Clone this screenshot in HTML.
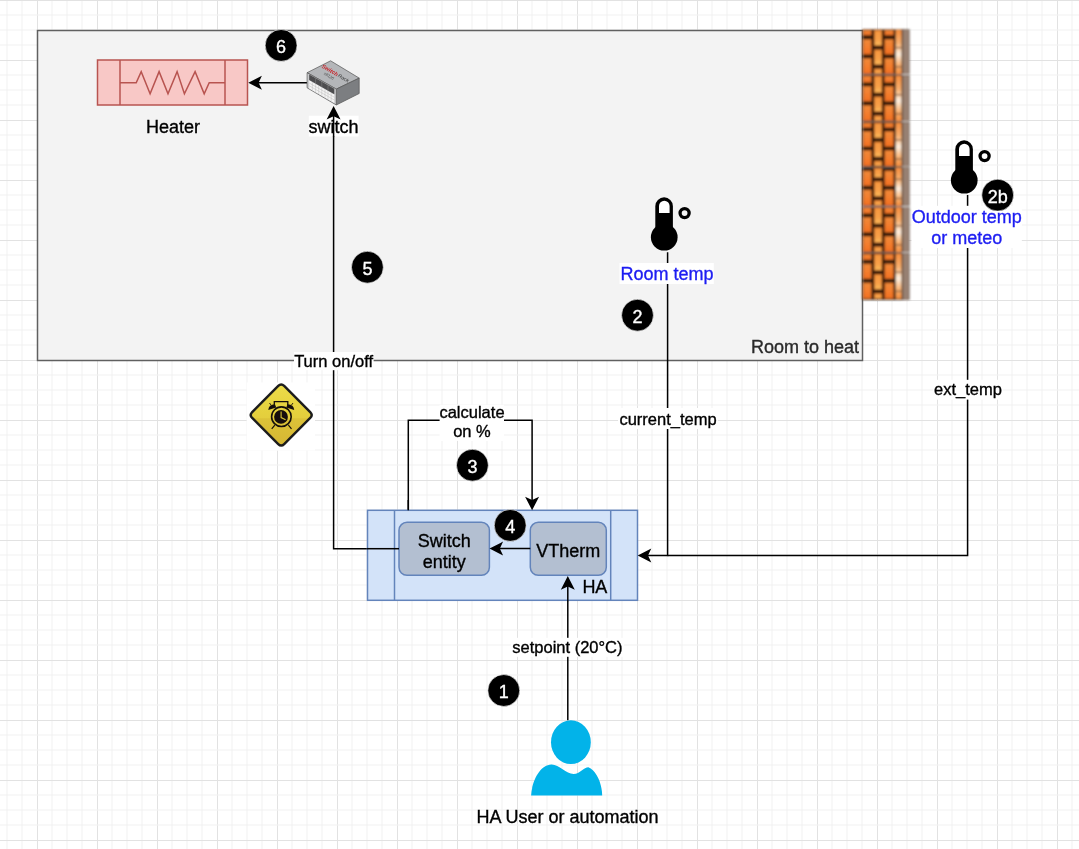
<!DOCTYPE html>
<html><head><meta charset="utf-8">
<style>
html,body{margin:0;padding:0;width:1079px;height:849px;overflow:hidden;background:#fff;}
svg{position:absolute;left:0;top:0;display:block;will-change:transform;}
text{font-family:"Liberation Sans",sans-serif;stroke-width:0.35px;}
</style></head>
<body>
<svg width="1079" height="849" viewBox="0 0 1079 849">
<defs></defs>
<rect x="6.5" y="0" width="1" height="849" fill="#f2f2f2"/>
<rect x="21.5" y="0" width="1" height="849" fill="#f2f2f2"/>
<rect x="37" y="0" width="1" height="849" fill="#e2e2e2"/>
<rect x="51.5" y="0" width="1" height="849" fill="#f2f2f2"/>
<rect x="66.5" y="0" width="1" height="849" fill="#f2f2f2"/>
<rect x="81.5" y="0" width="1" height="849" fill="#f2f2f2"/>
<rect x="97" y="0" width="1" height="849" fill="#e2e2e2"/>
<rect x="111.5" y="0" width="1" height="849" fill="#f2f2f2"/>
<rect x="126.5" y="0" width="1" height="849" fill="#f2f2f2"/>
<rect x="141.5" y="0" width="1" height="849" fill="#f2f2f2"/>
<rect x="157" y="0" width="1" height="849" fill="#e2e2e2"/>
<rect x="171.5" y="0" width="1" height="849" fill="#f2f2f2"/>
<rect x="186.5" y="0" width="1" height="849" fill="#f2f2f2"/>
<rect x="201.5" y="0" width="1" height="849" fill="#f2f2f2"/>
<rect x="217" y="0" width="1" height="849" fill="#e2e2e2"/>
<rect x="231.5" y="0" width="1" height="849" fill="#f2f2f2"/>
<rect x="246.5" y="0" width="1" height="849" fill="#f2f2f2"/>
<rect x="261.5" y="0" width="1" height="849" fill="#f2f2f2"/>
<rect x="277" y="0" width="1" height="849" fill="#e2e2e2"/>
<rect x="291.5" y="0" width="1" height="849" fill="#f2f2f2"/>
<rect x="306.5" y="0" width="1" height="849" fill="#f2f2f2"/>
<rect x="321.5" y="0" width="1" height="849" fill="#f2f2f2"/>
<rect x="337" y="0" width="1" height="849" fill="#e2e2e2"/>
<rect x="351.5" y="0" width="1" height="849" fill="#f2f2f2"/>
<rect x="366.5" y="0" width="1" height="849" fill="#f2f2f2"/>
<rect x="381.5" y="0" width="1" height="849" fill="#f2f2f2"/>
<rect x="397" y="0" width="1" height="849" fill="#e2e2e2"/>
<rect x="411.5" y="0" width="1" height="849" fill="#f2f2f2"/>
<rect x="426.5" y="0" width="1" height="849" fill="#f2f2f2"/>
<rect x="441.5" y="0" width="1" height="849" fill="#f2f2f2"/>
<rect x="457" y="0" width="1" height="849" fill="#e2e2e2"/>
<rect x="471.5" y="0" width="1" height="849" fill="#f2f2f2"/>
<rect x="486.5" y="0" width="1" height="849" fill="#f2f2f2"/>
<rect x="501.5" y="0" width="1" height="849" fill="#f2f2f2"/>
<rect x="517" y="0" width="1" height="849" fill="#e2e2e2"/>
<rect x="531.5" y="0" width="1" height="849" fill="#f2f2f2"/>
<rect x="546.5" y="0" width="1" height="849" fill="#f2f2f2"/>
<rect x="561.5" y="0" width="1" height="849" fill="#f2f2f2"/>
<rect x="577" y="0" width="1" height="849" fill="#e2e2e2"/>
<rect x="591.5" y="0" width="1" height="849" fill="#f2f2f2"/>
<rect x="606.5" y="0" width="1" height="849" fill="#f2f2f2"/>
<rect x="621.5" y="0" width="1" height="849" fill="#f2f2f2"/>
<rect x="637" y="0" width="1" height="849" fill="#e2e2e2"/>
<rect x="651.5" y="0" width="1" height="849" fill="#f2f2f2"/>
<rect x="666.5" y="0" width="1" height="849" fill="#f2f2f2"/>
<rect x="681.5" y="0" width="1" height="849" fill="#f2f2f2"/>
<rect x="697" y="0" width="1" height="849" fill="#e2e2e2"/>
<rect x="711.5" y="0" width="1" height="849" fill="#f2f2f2"/>
<rect x="726.5" y="0" width="1" height="849" fill="#f2f2f2"/>
<rect x="741.5" y="0" width="1" height="849" fill="#f2f2f2"/>
<rect x="757" y="0" width="1" height="849" fill="#e2e2e2"/>
<rect x="771.5" y="0" width="1" height="849" fill="#f2f2f2"/>
<rect x="786.5" y="0" width="1" height="849" fill="#f2f2f2"/>
<rect x="801.5" y="0" width="1" height="849" fill="#f2f2f2"/>
<rect x="817" y="0" width="1" height="849" fill="#e2e2e2"/>
<rect x="831.5" y="0" width="1" height="849" fill="#f2f2f2"/>
<rect x="846.5" y="0" width="1" height="849" fill="#f2f2f2"/>
<rect x="861.5" y="0" width="1" height="849" fill="#f2f2f2"/>
<rect x="877" y="0" width="1" height="849" fill="#e2e2e2"/>
<rect x="891.5" y="0" width="1" height="849" fill="#f2f2f2"/>
<rect x="906.5" y="0" width="1" height="849" fill="#f2f2f2"/>
<rect x="921.5" y="0" width="1" height="849" fill="#f2f2f2"/>
<rect x="937" y="0" width="1" height="849" fill="#e2e2e2"/>
<rect x="951.5" y="0" width="1" height="849" fill="#f2f2f2"/>
<rect x="966.5" y="0" width="1" height="849" fill="#f2f2f2"/>
<rect x="981.5" y="0" width="1" height="849" fill="#f2f2f2"/>
<rect x="997" y="0" width="1" height="849" fill="#e2e2e2"/>
<rect x="1011.5" y="0" width="1" height="849" fill="#f2f2f2"/>
<rect x="1026.5" y="0" width="1" height="849" fill="#f2f2f2"/>
<rect x="1041.5" y="0" width="1" height="849" fill="#f2f2f2"/>
<rect x="1057" y="0" width="1" height="849" fill="#e2e2e2"/>
<rect x="1071.5" y="0" width="1" height="849" fill="#f2f2f2"/>
<rect x="0" y="0" width="1079" height="1" fill="#e2e2e2"/>
<rect x="0" y="14.5" width="1079" height="1" fill="#f2f2f2"/>
<rect x="0" y="29.5" width="1079" height="1" fill="#f2f2f2"/>
<rect x="0" y="44.5" width="1079" height="1" fill="#f2f2f2"/>
<rect x="0" y="60" width="1079" height="1" fill="#e2e2e2"/>
<rect x="0" y="74.5" width="1079" height="1" fill="#f2f2f2"/>
<rect x="0" y="89.5" width="1079" height="1" fill="#f2f2f2"/>
<rect x="0" y="104.5" width="1079" height="1" fill="#f2f2f2"/>
<rect x="0" y="120" width="1079" height="1" fill="#e2e2e2"/>
<rect x="0" y="134.5" width="1079" height="1" fill="#f2f2f2"/>
<rect x="0" y="149.5" width="1079" height="1" fill="#f2f2f2"/>
<rect x="0" y="164.5" width="1079" height="1" fill="#f2f2f2"/>
<rect x="0" y="180" width="1079" height="1" fill="#e2e2e2"/>
<rect x="0" y="194.5" width="1079" height="1" fill="#f2f2f2"/>
<rect x="0" y="209.5" width="1079" height="1" fill="#f2f2f2"/>
<rect x="0" y="224.5" width="1079" height="1" fill="#f2f2f2"/>
<rect x="0" y="240" width="1079" height="1" fill="#e2e2e2"/>
<rect x="0" y="254.5" width="1079" height="1" fill="#f2f2f2"/>
<rect x="0" y="269.5" width="1079" height="1" fill="#f2f2f2"/>
<rect x="0" y="284.5" width="1079" height="1" fill="#f2f2f2"/>
<rect x="0" y="300" width="1079" height="1" fill="#e2e2e2"/>
<rect x="0" y="314.5" width="1079" height="1" fill="#f2f2f2"/>
<rect x="0" y="329.5" width="1079" height="1" fill="#f2f2f2"/>
<rect x="0" y="344.5" width="1079" height="1" fill="#f2f2f2"/>
<rect x="0" y="360" width="1079" height="1" fill="#e2e2e2"/>
<rect x="0" y="374.5" width="1079" height="1" fill="#f2f2f2"/>
<rect x="0" y="389.5" width="1079" height="1" fill="#f2f2f2"/>
<rect x="0" y="404.5" width="1079" height="1" fill="#f2f2f2"/>
<rect x="0" y="420" width="1079" height="1" fill="#e2e2e2"/>
<rect x="0" y="434.5" width="1079" height="1" fill="#f2f2f2"/>
<rect x="0" y="449.5" width="1079" height="1" fill="#f2f2f2"/>
<rect x="0" y="464.5" width="1079" height="1" fill="#f2f2f2"/>
<rect x="0" y="480" width="1079" height="1" fill="#e2e2e2"/>
<rect x="0" y="494.5" width="1079" height="1" fill="#f2f2f2"/>
<rect x="0" y="509.5" width="1079" height="1" fill="#f2f2f2"/>
<rect x="0" y="524.5" width="1079" height="1" fill="#f2f2f2"/>
<rect x="0" y="540" width="1079" height="1" fill="#e2e2e2"/>
<rect x="0" y="554.5" width="1079" height="1" fill="#f2f2f2"/>
<rect x="0" y="569.5" width="1079" height="1" fill="#f2f2f2"/>
<rect x="0" y="584.5" width="1079" height="1" fill="#f2f2f2"/>
<rect x="0" y="600" width="1079" height="1" fill="#e2e2e2"/>
<rect x="0" y="614.5" width="1079" height="1" fill="#f2f2f2"/>
<rect x="0" y="629.5" width="1079" height="1" fill="#f2f2f2"/>
<rect x="0" y="644.5" width="1079" height="1" fill="#f2f2f2"/>
<rect x="0" y="660" width="1079" height="1" fill="#e2e2e2"/>
<rect x="0" y="674.5" width="1079" height="1" fill="#f2f2f2"/>
<rect x="0" y="689.5" width="1079" height="1" fill="#f2f2f2"/>
<rect x="0" y="704.5" width="1079" height="1" fill="#f2f2f2"/>
<rect x="0" y="720" width="1079" height="1" fill="#e2e2e2"/>
<rect x="0" y="734.5" width="1079" height="1" fill="#f2f2f2"/>
<rect x="0" y="749.5" width="1079" height="1" fill="#f2f2f2"/>
<rect x="0" y="764.5" width="1079" height="1" fill="#f2f2f2"/>
<rect x="0" y="780" width="1079" height="1" fill="#e2e2e2"/>
<rect x="0" y="794.5" width="1079" height="1" fill="#f2f2f2"/>
<rect x="0" y="809.5" width="1079" height="1" fill="#f2f2f2"/>
<rect x="0" y="824.5" width="1079" height="1" fill="#f2f2f2"/>
<rect x="0" y="840" width="1079" height="1" fill="#e2e2e2"/>
<rect x="37.5" y="30.5" width="825" height="330" fill="#f3f3f3" stroke="#606060" stroke-width="1.5"/>
<text stroke="#2a2a2a" x="859" y="353" font-size="18" fill="#2a2a2a" text-anchor="end">Room to heat</text>
<g fill="none" stroke="#b85450" stroke-width="1.5">
  <rect x="97.5" y="60" width="150" height="45" fill="#f8c8c6"/>
  <line x1="120" y1="60" x2="120" y2="105"/>
  <line x1="225" y1="60" x2="225" y2="105"/>
  <polyline points="120,82.8 136.2,82.8 141.2,71.6 150.1,93.8 159.1,71.6 168,93.8 177.1,71.6 184.4,93.8 195.1,71.6 204.2,93.8 209.2,82.8 225,82.8"/>
</g>
<text stroke="#000" x="173" y="132.5" font-size="18" fill="#000" text-anchor="middle">Heater</text>
<g fill="none" stroke="#000" stroke-width="1.5">
  <path d="M307,82.8 L252,82.8"/>
  <path d="M399,548.7 L333.6,548.7 L333.6,110"/>
  <path d="M408.3,510 L408.3,420.3 L532.1,420.3 L532.1,500"/>
  <path d="M530.3,548.6 L495,548.6"/>
  <path d="M667.6,252.3 L667.6,555.5 L645,555.5"/>
  <path d="M967.6,195 L967.6,555.5 L667.6,555.5"/>
  <path d="M567.8,720.3 L567.8,585"/>
</g>
<g stroke="#555" stroke-width="0.7" stroke-linejoin="round">
  <path d="M330.6,60.8 L359.2,78.1 L336.3,89.1 L307.1,72.7 Z" fill="#b4b6b9"/>
  <path d="M336.3,89.1 L359.2,78.1 L359.2,93.5 L336.3,105 Z" fill="#7c7e81"/>
  <path d="M307.1,72.7 L336.3,89.1 L336.3,105 L307.1,87.8 Z" fill="#c9cacc"/>
</g>
<path d="M309.2,80.2 L334.3,94.4 L334.3,103 L309.2,88.6 Z" fill="#f4f4f4"/>
<path d="M309.2,74.6 L334.3,88.8 L334.3,94.2 L309.2,80 Z" fill="#4d4d4f"/>
<g stroke="#8a8a8a" stroke-width="0.5" fill="none">
  <path d="M315.6,78.2 L315.6,83.6 M321.8,81.7 L321.8,87.1 M328,85.2 L328,90.6"/>
</g>
<g stroke="#b8b8b8" stroke-width="0.45" fill="none">
  <path d="M309.2,83 L334.3,97.2 M309.2,85.8 L334.3,100 M312.4,82 L312.4,90.4 M315.6,83.8 L315.6,92.2 M318.7,85.6 L318.7,94 M321.8,87.3 L321.8,95.7 M325,89.1 L325,97.5 M328,90.9 L328,99.3 M331.2,92.7 L331.2,101.1"/>
</g>
<text x="0" y="0" font-size="5.6" font-style="italic" font-weight="bold" fill="#c8252b" textLength="18" lengthAdjust="spacingAndGlyphs" transform="translate(321.3,67.2) rotate(31)">Switch</text>
<text x="0" y="0" font-size="5" font-style="italic" fill="#3a3a3a" textLength="12" lengthAdjust="spacingAndGlyphs" transform="translate(337.5,76.6) rotate(31)">Rack</text>
<text x="0" y="0" font-size="4.2" font-style="italic" fill="#4a4a4a" textLength="11" lengthAdjust="spacingAndGlyphs" transform="translate(323.5,74.3) rotate(31)">x8126</text>
<rect x="308.8" y="115.7" width="49.8" height="20.8" fill="#fff"/>
<text stroke="#000" x="333.6" y="132.6" font-size="18" fill="#000" text-anchor="middle">switch</text>
<line x1="333.6" y1="116" x2="333.6" y2="137" stroke="#000" stroke-width="1.5"/>
<rect x="294" y="352" width="79.6" height="18.2" fill="#fff"/>
<text stroke="#000" x="333.6" y="366.6" font-size="16.5" fill="#000" text-anchor="middle">Turn on/off</text>
<g transform="translate(0,0)">
  <path d="M655.3,228 L655.3,206.1 A8.8,8.8 0 0 1 672.9,206.1 L672.9,228 Z" fill="#000"/>
  <path d="M659,213.1 L659,206 A5.3,5.3 0 0 1 669.6,206 L669.6,213.1 Z" fill="#fff"/>
  <circle cx="664.25" cy="237.25" r="13.35" fill="#000"/>
  <circle cx="684.6" cy="213.1" r="4.55" fill="none" stroke="#000" stroke-width="3.3"/>
</g>
<rect x="619.5" y="263" width="94.3" height="21" fill="#fff"/>
<text stroke="#1d1df2" x="667" y="280" font-size="18" fill="#1d1df2" text-anchor="middle">Room temp</text>
<g transform="translate(300.0,-57.0)">
  <path d="M655.3,228 L655.3,206.1 A8.8,8.8 0 0 1 672.9,206.1 L672.9,228 Z" fill="#000"/>
  <path d="M659,213.1 L659,206 A5.3,5.3 0 0 1 669.6,206 L669.6,213.1 Z" fill="#fff"/>
  <circle cx="664.25" cy="237.25" r="13.35" fill="#000"/>
  <circle cx="684.6" cy="213.1" r="4.55" fill="none" stroke="#000" stroke-width="3.3"/>
</g>
<rect x="911.5" y="205.8" width="110.3" height="42.2" fill="#fff"/>
<text stroke="#1d1df2" x="966.7" y="222.8" font-size="18" fill="#1d1df2" text-anchor="middle">Outdoor temp</text>
<text stroke="#1d1df2" x="966.7" y="243.8" font-size="18" fill="#1d1df2" text-anchor="middle">or meteo</text>
<rect x="618" y="408" width="100" height="21" fill="#fff"/>
<text stroke="#000" x="668" y="425" font-size="16.5" fill="#000" text-anchor="middle">current_temp</text>
<rect x="933" y="379.8" width="70" height="19.8" fill="#fff"/>
<text stroke="#000" x="968" y="395" font-size="16.5" fill="#000" text-anchor="middle">ext_temp</text>
<rect x="439.6" y="404.7" width="64.4" height="36.2" fill="#fff"/>
<text stroke="#000" x="472" y="417.9" font-size="16.5" fill="#000" text-anchor="middle">calculate</text>
<text stroke="#000" x="472" y="437.2" font-size="16.5" fill="#000" text-anchor="middle">on %</text>
<rect x="511" y="637.8" width="113" height="19" fill="#fff"/>
<text stroke="#000" x="567.4" y="653.3" font-size="16.5" fill="#000" text-anchor="middle">setpoint (20°C)</text>
<g stroke="#6384bb" stroke-width="1.5">
  <rect x="367.5" y="510.3" width="270" height="90" fill="#d3e3f9"/>
  <line x1="394.5" y1="510.3" x2="394.5" y2="600.3"/>
  <line x1="610.7" y1="510.3" x2="610.7" y2="600.3"/>
  <rect x="399" y="522.3" width="90.4" height="53" rx="8" fill="#b3bfd1"/>
  <rect x="530.3" y="522.3" width="76" height="53" rx="8" fill="#b3bfd1"/>
</g>
<text stroke="#000" x="444.2" y="547.1" font-size="18" fill="#000" text-anchor="middle">Switch</text>
<text stroke="#000" x="444.2" y="568" font-size="18" fill="#000" text-anchor="middle">entity</text>
<text stroke="#000" x="568.3" y="557" font-size="18" fill="#000" text-anchor="middle">VTherm</text>
<text stroke="#000" x="607.4" y="593" font-size="18" fill="#000" text-anchor="end">HA</text>
<path d="M399,548.7 L367,548.7" stroke="#000" stroke-width="1.5"/>
<path d="M530.3,548.6 L495,548.6" stroke="#000" stroke-width="1.5"/>
<path d="M567.8,601.2 L567.8,585" stroke="#000" stroke-width="1.5"/>
<path d="M408.3,510.3 L408.3,500" stroke="#000" stroke-width="1.5"/>
<path d="M248.30,82.80 L261.90,75.80 L258.60,82.80 L261.90,89.80 Z" fill="#000"/><path d="M333.60,106.00 L326.60,119.60 L333.60,116.30 L340.60,119.60 Z" fill="#000"/><path d="M532.10,510.30 L525.10,496.70 L532.10,500.00 L539.10,496.70 Z" fill="#000"/><path d="M489.50,548.60 L503.10,541.60 L499.80,548.60 L503.10,555.60 Z" fill="#000"/><path d="M637.70,555.50 L651.30,548.50 L648.00,555.50 L651.30,562.50 Z" fill="#000"/><path d="M567.80,576.10 L560.80,589.70 L567.80,586.40 L574.80,589.70 Z" fill="#000"/><g fill="#02b3e9">
  <ellipse cx="570.9" cy="742.2" rx="19.9" ry="21.9"/>
  <path d="M531.1,795.4 C532,781 540,765 551.3,764.6 C559,764.3 566,774 573.6,774 C580,774 584,767.3 588.4,767.3 C596,770 602,783 602.2,795.4 Z"/>
</g>
<text stroke="#000" x="567.5" y="822.9" font-size="18" fill="#000" text-anchor="middle">HA User or automation</text>
<circle cx="281.1" cy="45.4" r="15.95" fill="#000" stroke="#fff" stroke-width="0.6"/>
<text stroke="#fff" x="281.1" y="53.2" font-size="18" fill="#fff" text-anchor="middle">6</text>
<circle cx="367.4" cy="267.2" r="15.95" fill="#000" stroke="#fff" stroke-width="0.6"/>
<text stroke="#fff" x="367.4" y="275.0" font-size="18" fill="#fff" text-anchor="middle">5</text>
<circle cx="637.5" cy="315.2" r="15.95" fill="#000" stroke="#fff" stroke-width="0.6"/>
<text stroke="#fff" x="637.5" y="323.0" font-size="18" fill="#fff" text-anchor="middle">2</text>
<circle cx="997.7" cy="195.1" r="15.95" fill="#000" stroke="#fff" stroke-width="0.6"/>
<text stroke="#fff" x="997.7" y="202.9" font-size="18" fill="#fff" text-anchor="middle">2b</text>
<circle cx="472.4" cy="465.2" r="15.95" fill="#000" stroke="#fff" stroke-width="0.6"/>
<text stroke="#fff" x="472.4" y="473.0" font-size="18" fill="#fff" text-anchor="middle">3</text>
<circle cx="510.2" cy="525.4" r="15.95" fill="#000" stroke="#fff" stroke-width="0.6"/>
<text stroke="#fff" x="510.2" y="533.2" font-size="18" fill="#fff" text-anchor="middle">4</text>
<circle cx="503.8" cy="690.5" r="15.95" fill="#000" stroke="#fff" stroke-width="0.6"/>
<text stroke="#fff" x="503.8" y="698.3" font-size="18" fill="#fff" text-anchor="middle">1</text>
<defs><filter id="bl" x="-10%" y="-5%" width="120%" height="110%"><feGaussianBlur stdDeviation="1.05"/></filter><linearGradient id="brE" x1="0" x2="1" y1="0" y2="0"><stop offset="0" stop-color="#6e5444"/><stop offset="0.45" stop-color="#a08a7c"/><stop offset="0.8" stop-color="#8c7466"/><stop offset="1" stop-color="#b4a69c"/></linearGradient><linearGradient id="brD" x1="0" x2="0" y1="0" y2="1"><stop offset="0" stop-color="#f48c3c"/><stop offset="0.3" stop-color="#f8b070"/><stop offset="0.55" stop-color="#fff0e0"/><stop offset="0.8" stop-color="#f8b070"/><stop offset="1" stop-color="#f48c3c"/></linearGradient><linearGradient id="brk" x1="0" x2="0" y1="0" y2="1"><stop offset="0" stop-color="#f08a3a"/><stop offset="0.5" stop-color="#f47e2e"/><stop offset="1" stop-color="#f26f22"/></linearGradient><linearGradient id="brkB" x1="0" x2="0" y1="0" y2="1"><stop offset="0" stop-color="#f7963e"/><stop offset="0.6" stop-color="#f8a048"/><stop offset="1" stop-color="#fbbc5c"/></linearGradient></defs>
<g filter="url(#bl)">
<rect x="862.5" y="29.5" width="47" height="45.7" fill="#22150a"/>
<rect x="901.8" y="29.5" width="7.6" height="45.7" fill="url(#brE)"/>
<rect x="895.6" y="29.8" width="6.0" height="44.4" fill="url(#brD)"/>
<rect x="895.2" y="47.0" width="6.6" height="1.4" fill="#9a6a48"/>
<rect x="895.2" y="66.0" width="6.6" height="1.4" fill="#9a6a48"/>
<rect x="863.2" y="30.2" width="8.0" height="4.9" fill="url(#brk)" stroke="#b85a1c" stroke-width="0.9"/>
<rect x="863.2" y="39.3" width="8.0" height="14.9" fill="url(#brk)" stroke="#b85a1c" stroke-width="0.9"/>
<rect x="863.2" y="58.3" width="8.0" height="15.5" fill="url(#brk)" stroke="#b85a1c" stroke-width="0.9"/>
<rect x="874.2" y="30.2" width="7.7" height="15.4" fill="url(#brkB)" stroke="#b85a1c" stroke-width="0.9"/>
<rect x="874.2" y="49.8" width="7.7" height="14.9" fill="url(#brkB)" stroke="#b85a1c" stroke-width="0.9"/>
<rect x="874.2" y="68.8" width="7.7" height="5.0" fill="url(#brkB)" stroke="#b85a1c" stroke-width="0.9"/>
<rect x="884.8" y="30.2" width="8.5" height="4.9" fill="url(#brk)" stroke="#b85a1c" stroke-width="0.9"/>
<rect x="884.8" y="39.3" width="8.5" height="14.9" fill="url(#brk)" stroke="#b85a1c" stroke-width="0.9"/>
<rect x="884.8" y="58.3" width="8.5" height="15.5" fill="url(#brk)" stroke="#b85a1c" stroke-width="0.9"/>
<rect x="862.5" y="74.3" width="40" height="1.9" fill="#a39b95"/>
<rect x="901.8" y="74.3" width="8" height="2.6" fill="#ececec"/>
<rect x="862.5" y="75.2" width="47" height="47.1" fill="#22150a"/>
<rect x="901.8" y="75.2" width="7.6" height="47.1" fill="url(#brE)"/>
<rect x="895.6" y="75.5" width="6.0" height="45.8" fill="url(#brD)"/>
<rect x="895.2" y="94.1" width="6.6" height="1.4" fill="#9a6a48"/>
<rect x="895.2" y="113.1" width="6.6" height="1.4" fill="#9a6a48"/>
<rect x="863.2" y="76.0" width="8.0" height="6.3" fill="url(#brk)" stroke="#b85a1c" stroke-width="0.9"/>
<rect x="863.2" y="86.3" width="8.0" height="14.9" fill="url(#brk)" stroke="#b85a1c" stroke-width="0.9"/>
<rect x="863.2" y="105.3" width="8.0" height="15.5" fill="url(#brk)" stroke="#b85a1c" stroke-width="0.9"/>
<rect x="874.2" y="76.0" width="7.7" height="16.8" fill="url(#brkB)" stroke="#b85a1c" stroke-width="0.9"/>
<rect x="874.2" y="96.8" width="7.7" height="14.9" fill="url(#brkB)" stroke="#b85a1c" stroke-width="0.9"/>
<rect x="874.2" y="115.8" width="7.7" height="5.0" fill="url(#brkB)" stroke="#b85a1c" stroke-width="0.9"/>
<rect x="884.8" y="76.0" width="8.5" height="6.3" fill="url(#brk)" stroke="#b85a1c" stroke-width="0.9"/>
<rect x="884.8" y="86.3" width="8.5" height="14.9" fill="url(#brk)" stroke="#b85a1c" stroke-width="0.9"/>
<rect x="884.8" y="105.3" width="8.5" height="15.5" fill="url(#brk)" stroke="#b85a1c" stroke-width="0.9"/>
<rect x="862.5" y="121.4" width="40" height="1.9" fill="#a39b95"/>
<rect x="901.8" y="121.4" width="8" height="2.6" fill="#ececec"/>
<rect x="862.5" y="122.3" width="47" height="45.2" fill="#22150a"/>
<rect x="901.8" y="122.3" width="7.6" height="45.2" fill="url(#brE)"/>
<rect x="895.6" y="122.6" width="6.0" height="43.9" fill="url(#brD)"/>
<rect x="895.2" y="139.3" width="6.6" height="1.4" fill="#9a6a48"/>
<rect x="895.2" y="158.3" width="6.6" height="1.4" fill="#9a6a48"/>
<rect x="863.2" y="123.0" width="8.0" height="4.4" fill="url(#brk)" stroke="#b85a1c" stroke-width="0.9"/>
<rect x="863.2" y="131.5" width="8.0" height="14.9" fill="url(#brk)" stroke="#b85a1c" stroke-width="0.9"/>
<rect x="863.2" y="150.5" width="8.0" height="15.5" fill="url(#brk)" stroke="#b85a1c" stroke-width="0.9"/>
<rect x="874.2" y="123.0" width="7.7" height="14.9" fill="url(#brkB)" stroke="#b85a1c" stroke-width="0.9"/>
<rect x="874.2" y="142.0" width="7.7" height="14.9" fill="url(#brkB)" stroke="#b85a1c" stroke-width="0.9"/>
<rect x="874.2" y="161.0" width="7.7" height="5.0" fill="url(#brkB)" stroke="#b85a1c" stroke-width="0.9"/>
<rect x="884.8" y="123.0" width="8.5" height="4.4" fill="url(#brk)" stroke="#b85a1c" stroke-width="0.9"/>
<rect x="884.8" y="131.5" width="8.5" height="14.9" fill="url(#brk)" stroke="#b85a1c" stroke-width="0.9"/>
<rect x="884.8" y="150.5" width="8.5" height="15.5" fill="url(#brk)" stroke="#b85a1c" stroke-width="0.9"/>
<rect x="862.5" y="166.6" width="40" height="1.9" fill="#a39b95"/>
<rect x="901.8" y="166.6" width="8" height="2.6" fill="#ececec"/>
<rect x="862.5" y="167.5" width="47" height="39.4" fill="#22150a"/>
<rect x="901.8" y="167.5" width="7.6" height="39.4" fill="url(#brE)"/>
<rect x="895.6" y="167.8" width="6.0" height="38.1" fill="url(#brD)"/>
<rect x="895.2" y="178.7" width="6.6" height="1.4" fill="#9a6a48"/>
<rect x="895.2" y="197.7" width="6.6" height="1.4" fill="#9a6a48"/>
<rect x="863.2" y="170.9" width="8.0" height="14.9" fill="url(#brk)" stroke="#b85a1c" stroke-width="0.9"/>
<rect x="863.2" y="189.9" width="8.0" height="15.5" fill="url(#brk)" stroke="#b85a1c" stroke-width="0.9"/>
<rect x="874.2" y="168.2" width="7.7" height="9.1" fill="url(#brkB)" stroke="#b85a1c" stroke-width="0.9"/>
<rect x="874.2" y="181.4" width="7.7" height="14.9" fill="url(#brkB)" stroke="#b85a1c" stroke-width="0.9"/>
<rect x="874.2" y="200.4" width="7.7" height="5.0" fill="url(#brkB)" stroke="#b85a1c" stroke-width="0.9"/>
<rect x="884.8" y="170.9" width="8.5" height="14.9" fill="url(#brk)" stroke="#b85a1c" stroke-width="0.9"/>
<rect x="884.8" y="189.9" width="8.5" height="15.5" fill="url(#brk)" stroke="#b85a1c" stroke-width="0.9"/>
<rect x="862.5" y="206.0" width="40" height="1.9" fill="#a39b95"/>
<rect x="901.8" y="206.0" width="8" height="2.6" fill="#ececec"/>
<rect x="862.5" y="206.9" width="47" height="46.4" fill="#22150a"/>
<rect x="901.8" y="206.9" width="7.6" height="46.4" fill="url(#brE)"/>
<rect x="895.6" y="207.2" width="6.0" height="45.1" fill="url(#brD)"/>
<rect x="895.2" y="225.1" width="6.6" height="1.4" fill="#9a6a48"/>
<rect x="895.2" y="244.1" width="6.6" height="1.4" fill="#9a6a48"/>
<rect x="863.2" y="207.7" width="8.0" height="5.6" fill="url(#brk)" stroke="#b85a1c" stroke-width="0.9"/>
<rect x="863.2" y="217.3" width="8.0" height="14.9" fill="url(#brk)" stroke="#b85a1c" stroke-width="0.9"/>
<rect x="863.2" y="236.3" width="8.0" height="15.5" fill="url(#brk)" stroke="#b85a1c" stroke-width="0.9"/>
<rect x="874.2" y="207.7" width="7.7" height="16.1" fill="url(#brkB)" stroke="#b85a1c" stroke-width="0.9"/>
<rect x="874.2" y="227.8" width="7.7" height="14.9" fill="url(#brkB)" stroke="#b85a1c" stroke-width="0.9"/>
<rect x="874.2" y="246.8" width="7.7" height="5.0" fill="url(#brkB)" stroke="#b85a1c" stroke-width="0.9"/>
<rect x="884.8" y="207.7" width="8.5" height="5.6" fill="url(#brk)" stroke="#b85a1c" stroke-width="0.9"/>
<rect x="884.8" y="217.3" width="8.5" height="14.9" fill="url(#brk)" stroke="#b85a1c" stroke-width="0.9"/>
<rect x="884.8" y="236.3" width="8.5" height="15.5" fill="url(#brk)" stroke="#b85a1c" stroke-width="0.9"/>
<rect x="862.5" y="252.4" width="40" height="1.9" fill="#a39b95"/>
<rect x="901.8" y="252.4" width="8" height="2.6" fill="#ececec"/>
<rect x="862.5" y="253.3" width="47" height="46.5" fill="#22150a"/>
<rect x="901.8" y="253.3" width="7.6" height="46.5" fill="url(#brE)"/>
<rect x="895.6" y="253.6" width="6.0" height="45.2" fill="url(#brD)"/>
<rect x="895.2" y="271.6" width="6.6" height="1.4" fill="#9a6a48"/>
<rect x="895.2" y="290.6" width="6.6" height="1.4" fill="#9a6a48"/>
<rect x="863.2" y="254.1" width="8.0" height="5.7" fill="url(#brk)" stroke="#b85a1c" stroke-width="0.9"/>
<rect x="863.2" y="263.9" width="8.0" height="14.9" fill="url(#brk)" stroke="#b85a1c" stroke-width="0.9"/>
<rect x="863.2" y="282.9" width="8.0" height="15.5" fill="url(#brk)" stroke="#b85a1c" stroke-width="0.9"/>
<rect x="874.2" y="254.1" width="7.7" height="16.2" fill="url(#brkB)" stroke="#b85a1c" stroke-width="0.9"/>
<rect x="874.2" y="274.4" width="7.7" height="14.9" fill="url(#brkB)" stroke="#b85a1c" stroke-width="0.9"/>
<rect x="874.2" y="293.4" width="7.7" height="5.0" fill="url(#brkB)" stroke="#b85a1c" stroke-width="0.9"/>
<rect x="884.8" y="254.1" width="8.5" height="5.7" fill="url(#brk)" stroke="#b85a1c" stroke-width="0.9"/>
<rect x="884.8" y="263.9" width="8.5" height="14.9" fill="url(#brk)" stroke="#b85a1c" stroke-width="0.9"/>
<rect x="884.8" y="282.9" width="8.5" height="15.5" fill="url(#brk)" stroke="#b85a1c" stroke-width="0.9"/>
</g>
<rect x="246.7" y="382.5" width="68.3" height="68" fill="#fff"/>
<defs><linearGradient id="yel" x1="0" x2="0" y1="0" y2="1"><stop offset="0" stop-color="#ecdc48"/><stop offset="0.55" stop-color="#e4ce3c"/><stop offset="0.56" stop-color="#dcc238"/><stop offset="1" stop-color="#d6b733"/></linearGradient>
<filter id="bl2" x="-10%" y="-10%" width="120%" height="120%"><feGaussianBlur stdDeviation="0.45"/></filter></defs>
<g filter="url(#bl2)">
<path d="M284.17,385.97 L310.23,412.03 Q313.20,415.00 310.23,417.97 L284.17,444.03 Q281.20,447.00 278.23,444.03 L252.17,417.97 Q249.20,415.00 252.17,412.03 L278.23,385.97 Q281.20,383.00 284.17,385.97 Z" fill="url(#yel)" stroke="#1c1c1c" stroke-width="2.4" stroke-linejoin="round"/>
<g fill="none" stroke="#151008">
  <circle cx="281.4" cy="416.7" r="9.8" stroke-width="1.6"/>
  <path d="M274.3,405.8 L274.3,401.6 L287.8,401.6 L287.8,405.8" stroke-width="1.3"/>
  <path d="M274.8,425.2 L271.7,428.8 M288.4,425.2 L291.5,428.8" stroke-width="1.2"/>
  <path d="M269.5,403 L271,405 M293,403 L291.5,405" stroke-width="0.9"/>
</g>
<circle cx="281" cy="416.9" r="6.9" fill="#151008"/>
<path d="M268.3,410 Q268.5,404.5 275,404.2 L276.2,407.5 Z M294.2,410 Q294,404.5 287.5,404.2 L286.3,407.5 Z" fill="#151008"/>
<path d="M281.1,411.6 L281.1,417.6 L285.6,419.8" fill="none" stroke="#d8c23a" stroke-width="1.1"/>
</g>
</svg>
</body></html>
